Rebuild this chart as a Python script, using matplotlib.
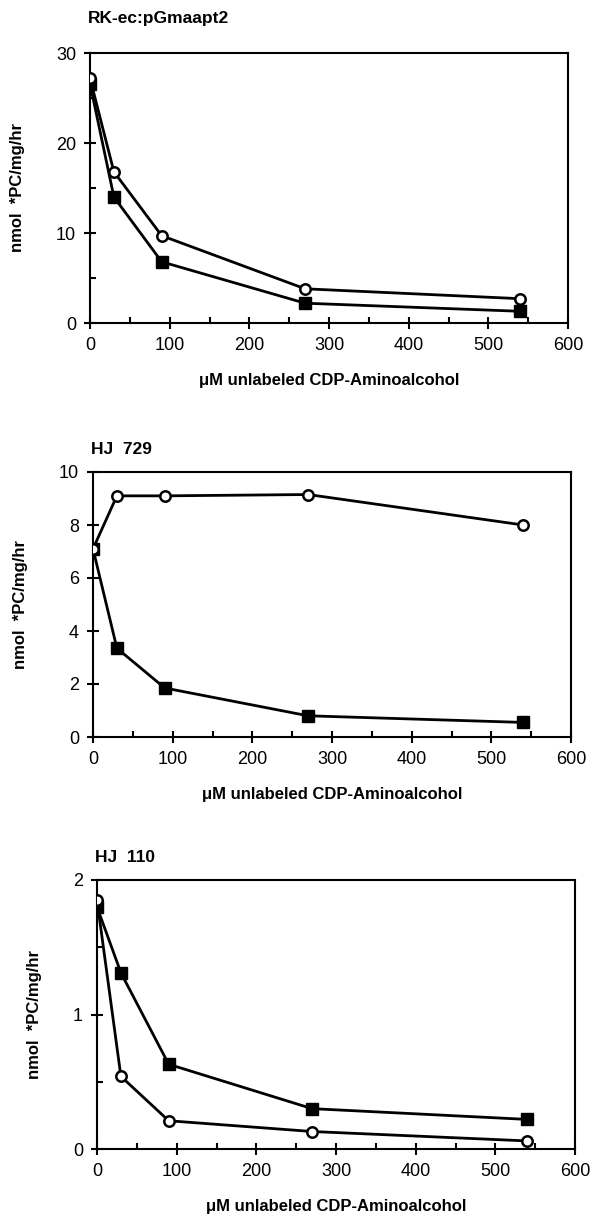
import matplotlib.pyplot as plt
import numpy as np

plt.rcParams['font.family'] = ['Liberation Sans', 'DejaVu Sans']

conc = [0, 30, 90, 270, 540]

# RK-ec:pGmaapt2
rk_open = [27.2, 16.8, 9.7, 3.8, 2.7]
rk_filled = [26.6, 14.0, 6.8, 2.2, 1.3]

# HJ 729
hj729_open = [7.1, 9.1, 9.1, 9.15, 8.0]
hj729_filled = [7.1, 3.35, 1.85, 0.8, 0.55]

# HJ 110
hj110_open = [1.85, 0.54, 0.21, 0.13, 0.06]
hj110_filled = [1.8, 1.31, 0.63, 0.30, 0.22]

titles = ['RK-ec:pGmaapt2', 'HJ  729', 'HJ  110']
ylims = [30, 10, 2]
yticks = [[0, 10, 20, 30], [0, 2, 4, 6, 8, 10], [0, 1, 2]]
yminor = [[5, 15, 25], [], [0.5, 1.5]]
opens = [rk_open, hj729_open, hj110_open]
filleds = [rk_filled, hj729_filled, hj110_filled]

W, H = 594, 1216
fig = plt.figure(figsize=(W/100, H/100), dpi=100)

# pixel boxes: left, right, top, bottom
boxes = [(90, 568, 53, 323), (93, 571, 472, 737), (97, 575, 880, 1149)]
title_y = [18, 449, 857]

for i in range(3):
    l, r, t, b = boxes[i]
    ax = fig.add_axes([l/W, 1 - b/H, (r - l)/W, (b - t)/H])
    ax.plot(conc, filleds[i], '-s', color='black', linewidth=2,
            markersize=9, markerfacecolor='black', zorder=3)
    ax.plot(conc, opens[i], '-o', color='black', linewidth=2,
            markersize=7.5, markerfacecolor='white', markeredgewidth=1.8, zorder=4)
    ax.set_xlim(0, 600)
    ax.set_ylim(0, ylims[i])
    ax.set_xticks([0, 100, 200, 300, 400, 500, 600])
    ax.set_xticks([50, 150, 250, 350, 450, 550], minor=True)
    ax.set_yticks(yticks[i])
    ax.set_yticks(yminor[i], minor=True)
    ax.tick_params(which='major', direction='inout', length=8, width=1.5,
                   labelsize=13, pad=6)
    ax.tick_params(which='minor', direction='in', length=4, width=1.5)
    for s in ax.spines.values():
        s.set_linewidth(1.5)
    ax.set_xlabel('\u03bcM unlabeled CDP-Aminoalcohol', fontsize=12,
                  fontweight='bold', labelpad=14)
    ax.set_ylabel('nmol  *PC/mg/hr', fontsize=12, fontweight='bold', labelpad=22)
    fig.text((l - 2)/W, 1 - title_y[i]/H, titles[i], fontsize=12.5,
             fontweight='bold', va='center', ha='left')

fig.savefig('out.png', dpi=100)
